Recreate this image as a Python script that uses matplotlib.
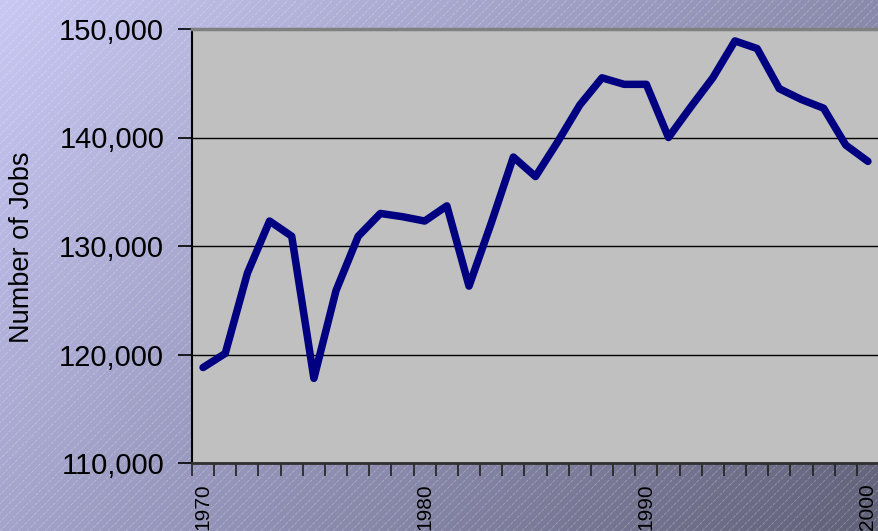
import numpy as np
import matplotlib
matplotlib.use("Agg")
import matplotlib.pyplot as plt
from matplotlib.ticker import FuncFormatter

plt.rcParams['font.family'] = ['Liberation Sans', 'DejaVu Sans']

years = np.arange(1970, 2001)
jobs = [118800, 120100, 127500, 132300, 130900, 117800, 125900, 130900,
        133000, 132700, 132300, 133700, 126300, 132100, 138200, 136400,
        139600, 143000, 145500, 144900, 144900, 140000, 142800, 145500,
        148900, 148200, 144500, 143500, 142700, 139300, 137800]
label_years = [1970, 1980, 1990, 2000]
y_ticks = [110000, 120000, 130000, 140000, 150000]

W, H = 879, 531
fig = plt.figure(figsize=(W / 100, H / 100), dpi=100)

# background: diagonal gradient with fine white hatching
bg = fig.add_axes([0, 0, 1, 1])
tl = np.array([200, 200, 243]) / 255
tr = np.array([138, 138, 172]) / 255
bl = np.array([163, 163, 204]) / 255
br = np.array([96, 96, 120]) / 255
u = np.linspace(0, 1, W)[None, :, None]
v = np.linspace(0, 1, H)[:, None, None]
img = (1 - v) * ((1 - u) * tl + u * tr) + v * ((1 - u) * bl + u * br)
bg.imshow(img, extent=[0, W, 0, H], aspect='auto', origin='upper')
for c in range(-H, W, 9):
    bg.plot([c, c + H], [0, H], color='white', alpha=0.28, lw=0.6,
            linestyle=(0, (4, 1.5)))
bg.set_xlim(0, W)
bg.set_ylim(0, H)
bg.axis('off')

ax = fig.add_axes([192 / W, 68 / H, (W - 192) / W, 434 / H])
ax.set_facecolor('#C0C0C0')
ax.plot(years, jobs, color='#000080', lw=5.4, solid_capstyle='round',
        solid_joinstyle='round', zorder=3)

ax.set_xlim(1969.5, 2000.3)
ax.set_ylim(110000, 150000)
ax.set_yticks(y_ticks)
ax.yaxis.set_major_formatter(FuncFormatter(lambda v, p: f"{int(v):,}"))
ax.yaxis.grid(True, color='black', lw=1)
ax.set_axisbelow(True)

ax.set_xticks(label_years)
ax.set_xticklabels([str(y) for y in label_years], rotation=90)
ax.set_xticks(np.arange(1969.5, 2001, 1), minor=True)
ax.tick_params(axis='x', which='major', length=0, pad=14.5, labelsize=15)
ax.tick_params(axis='x', which='minor', length=9, width=1.2, color='#202020')
ax.tick_params(axis='y', length=10, width=1.2, pad=10, labelsize=21)

ax.spines['right'].set_visible(False)
ax.spines['top'].set_color('#808080')
ax.spines['top'].set_linewidth(2.5)
ax.spines['left'].set_color('black')
ax.spines['left'].set_linewidth(1.5)
ax.spines['bottom'].set_color('#303030')
ax.spines['bottom'].set_linewidth(2)

fig.text(22 / W, 1 - 247 / H, 'Number of Jobs', rotation=90, fontsize=19.5,
         ha='center', va='center')

fig.savefig('out.png', dpi=100)
